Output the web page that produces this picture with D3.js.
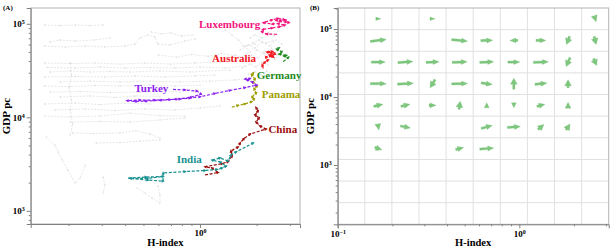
<!DOCTYPE html>
<html><head><meta charset="utf-8">
<script src="https://cdn.jsdelivr.net/npm/d3@7"></script>
<style>
body{margin:0;background:#fff}
svg{display:block}
text{font-family:"Liberation Serif","Times New Roman",serif;font-weight:bold}
</style>
</head><body>
<svg id="c" width="614" height="252"></svg>
<script>
// ---------- DATA : panel A, highlighted countries  [H-index, GDP pc] ----------
const luxembourg = [[2.56,77200],[2.26,77700],[2.13,82400],[2.17,87300],[2.42,90100],[2.66,93500],[2.83,97000],[2.60,100700],[2.42,99500],[2.17,102800],[2.41,110000],[2.60,114000],[2.80,111300],[2.66,106000],[2.87,104500],[2.97,102800],[2.83,110000],[2.54,108600]];
const australia = [[2.17,33400],[2.14,36300],[2.22,39000],[2.30,41000],[2.24,44200],[2.36,46400],[2.45,44200],[2.39,48700],[2.27,49900],[2.42,50600],[2.51,47500],[2.36,44700]];
const germany = [[2.77,39400],[2.95,43800],[2.80,45300],[2.88,46000],[2.64,47500],[2.72,50300],[2.56,53400],[2.63,55100]];
const panama = [[1.475,12800],[1.59,13400],[1.735,13900],[1.88,14700],[1.94,15700],[1.89,16600],[1.99,18200],[1.94,20100],[2.01,21600],[1.91,23900],[1.96,25700],[1.88,28300],[1.92,29800]];
const turkey = [[0.718,19900],[0.832,19600],[0.964,19100],[1.012,17700],[0.885,16300],[0.736,15600],[0.612,15200],[0.510,14900],[0.451,14800],[0.409,15100],[0.48,15300],[0.576,15300],[0.692,15500],[0.783,15700],[0.885,16100],[1.0,16600],[1.20,18000],[1.445,19400],[1.735,20800],[2.00,22100],[1.89,23900],[1.78,25100],[1.845,26000],[1.735,25700]];
const china = [[1.063,2420],[1.247,2570],[1.158,2870],[1.063,2960],[1.31,3200],[1.409,3350],[1.48,3850],[1.46,4360],[1.59,4810],[1.633,5310],[1.714,5930],[1.845,6620],[2.24,7490],[2.085,8080],[1.985,8910],[2.06,9840],[1.96,10600],[2.035,11700],[1.985,12700]];
const india = [[0.414,2240],[0.516,2300],[0.636,2330],[0.522,2220],[0.425,2220],[0.529,2130],[0.636,2080],[0.636,2540],[0.832,2630],[1.063,2700],[1.231,2770],[1.31,2870],[1.375,3010],[1.277,3330],[1.158,3490],[1.277,3670],[1.409,3410],[1.46,3950],[1.553,4260],[1.915,5310]];

// ---------- DATA : panel A, background countries ----------
const background = [
 [[0.149,97000],[0.18,95900],[0.217,97000],[0.26,95900],[0.305,97000]],
 [[0.149,57900],[0.192,56500],[0.245,57900],[0.312,56500],[0.399,57900],[0.451,60800],[0.48,70500],[0.527,75900],[0.576,72300],[0.595,60800],[0.692,59400],[0.832,65400],[0.941,68700]],
 [[0.159,63800],[0.18,67200],[0.217,65400],[0.276,67200],[0.332,70500]],
 [[0.149,38100],[0.204,37600],[0.276,38100],[0.375,37100],[0.510,38100],[0.692,37100],[0.941,38100],[1.277,39000],[1.633,41000]],
 [[0.154,34100],[0.217,33700],[0.294,34500],[0.399,33700],[0.542,34100],[0.736,33700],[1.0,34500],[1.358,33700],[1.735,35400]],
 [[0.159,30500],[0.204,31300],[0.26,30500],[0.332,30900],[0.425,30500],[0.612,31300],[0.885,30500],[1.445,32100]],
 [[0.149,27000],[0.217,27300],[0.312,27000],[0.451,27700],[0.651,27000],[0.941,27700],[1.2,28300]],
 [[0.18,23900],[0.26,24400],[0.375,23900],[0.542,24400],[0.783,23900],[1.13,24400],[1.535,25100],[1.845,26300]],
 [[0.149,21600],[0.204,21300],[0.276,21900],[0.375,21600],[0.542,22100],[0.736,21600],[1.0,22100]],
 [[0.159,18600],[0.23,18900],[0.332,18400],[0.48,18600],[0.651,19100],[0.783,18600]],
 [[0.18,16500],[0.26,16900],[0.353,16300],[0.451,16900],[0.612,16700]],
 [[0.149,13900],[0.217,14200],[0.294,13700],[0.399,14200],[0.542,13900]],
 [[0.169,12000],[0.245,12300],[0.353,11800],[0.510,12300],[0.736,12000],[1.0,12600],[1.277,13200]],
 [[0.149,10300],[0.204,10100],[0.294,10300],[0.425,11100],[0.612,10400],[0.832,10300]],
 [[0.204,8910],[0.294,9020],[0.425,8910],[0.612,9360],[0.832,9840]],
 [[0.21,6790],[0.27,6710],[0.375,6790],[0.455,7200],[0.542,6620],[0.612,6010]],
 [[0.28,5310],[0.375,5370],[0.48,5570],[0.612,5720]],
 [[0.152,6150],[0.169,5060],[0.176,4250],[0.185,3490],[0.198,2730],[0.217,1980],[0.23,2240],[0.245,3090]],
 [[0.204,38100],[0.207,28300],[0.201,20600],[0.207,15300],[0.204,12000],[0.21,8490],[0.204,6470]],
 [[0.462,1750],[0.51,1550],[0.556,1370],[0.612,1210],[0.612,1480],[0.598,1840]],
 [[0.305,2300],[0.312,1890],[0.305,1550]],
 [[0.55,82000],[0.62,78000],[0.70,80000],[0.80,74000],[0.92,76000]],
 [[0.6,46400],[0.75,44000],[0.9,47000],[1.1,45000],[1.3,48000],[1.5,46000]],
 [[1.633,52500],[1.804,59400],[1.96,55100],[2.13,63800],[2.356,57900],[2.54,67200],[2.72,60800]],
 [[1.735,41000],[1.885,46400],[2.03,43100],[2.18,49900],[2.356,44200],[2.6,52500]],
 [[1.67,33700],[1.845,37100],[1.98,34500],[2.13,39000],[2.3,36300]],
 [[1.845,70500],[1.96,75900],[2.13,70500],[2.3,79800],[2.48,74100]],
 [[1.535,46400],[1.67,44200],[1.845,49900],[1.735,57900],[1.96,60800]],
 [[1.804,29100],[1.96,30500],[2.085,28300],[2.26,31300],[2.42,29100]],
 [[1.358,86000],[1.48,76000],[1.6,67200],[1.7,57900]],
 [[2.0,52500],[2.2,47500],[2.4,55100],[2.6,46400],[2.5,41000]],
 [[1.9,62300],[2.05,67200],[2.25,62300],[2.45,65400]]
];

// ---------- DATA : panel B, mean flow per bin (row 0 = top GDP bin) ----------
const quiverCol = [1,3,9, 1,4,5,6,7,8,9, 1,2,3,4,5,6,7,8,9, 1,2,3,4,5,6,7,8, 1,2,3,4,5,6,7,8, 1,2,5,6,7,8, 1,4,5];
const quiverRow = [0,0,0, 1,1,1,1,1,1,1, 2,2,2,2,2,2,2,2,2, 3,3,3,3,3,3,3,3, 4,4,4,4,4,4,4,4, 5,5,5,5,5,5, 6,6,6];
const quiverDH  = [0.028,0.028,0.011, 0.088,0.088,0.066,-0.044,0.055,-0.017,0.011, 0.077,0.083,0.072,0.083,0.077,0.066,0.083,-0.022,0.017, 0.088,0.088,-0.028,0.088,0.061,0,0.066,0, 0.05,0.05,0.039,0.006,0,0,0.044,0, 0.006,0.055,0.061,0.072,0.033,0.022, 0.039,0.044,0.077];
const quiverDG  = [0,0,-0.088, 0.029,-0.022,0.007,0,0,-0.118,-0.118, 0,0.015,0.007,0.007,0.007,0,0.007,-0.132,-0.103, 0,0.015,-0.118,0.007,-0.022,0.162,0.022,0.118, 0.029,0.029,0,0.118,0.074,-0.074,0.029,0.088, -0.088,-0.029,0.044,0.015,0.074,0.088, -0.037,0.029,0.015];

// ---------- tick values ----------
const yMajorTicks = [1e3,1e4,1e5];
const xMajorTicksA = [1];
const xMajorTicksB = [0.1,1];

// ---------- config (styles / layout) ----------
const countries = [
 {name:"Luxembourg", data:luxembourg, color:"#f2157e", label:[2.087,90100], anchor:"end"},
 {name:"Australia",  data:australia,  color:"#f2141c", label:[1.986,39000], anchor:"end"},
 {name:"Germany",    data:germany,    color:"#1f8c1f", label:[2.003,26000], anchor:"start"},
 {name:"Panama",     data:panama,     color:"#9c9c00", label:[2.13,16100],  anchor:"start"},
 {name:"Turkey",     data:turkey,     color:"#8b22f0", label:[0.678,18600], anchor:"end"},
 {name:"China",      data:china,      color:"#9b0d0d", label:[2.31,6740],   anchor:"start"},
 {name:"India",      data:india,      color:"#1a9191", label:[0.751,3243],  anchor:"start"}
];

const svg = d3.select("#c");

// scales
const xA = d3.scaleLog().domain([0.1257, 3.40]).range([30.7, 300]);
const yA = d3.scaleLog().domain([723, 147600]).range([224, 8]);
const xB = d3.scaleLog().domain([0.1, Math.pow(10,0.492)]).range([337.7, 608.7]);
const yB = d3.scaleLog().domain([Math.pow(10,2.128), Math.pow(10,5.309)]).range([224.3, 8]);

function minorTicks(scale){
  const [a,b] = scale.domain();
  const out = [];
  for (let e = Math.floor(Math.log10(a)); e <= Math.ceil(Math.log10(b)); e++){
    for (let m = 2; m <= 9; m++){
      const v = m*Math.pow(10,e);
      if (v >= a && v <= b) out.push(v);
    }
  }
  return out;
}
function supLabels(sel){
  sel.selectAll(".tick text").each(function(d){
    const t = d3.select(this);
    const e = Math.round(Math.log10(d));
    t.text("10");
    t.append("tspan").attr("dy","-0.5em").attr("font-size","6px").text(e < 0 ? "\u2212" + String(-e) : String(e));
  });
}

function drawAxes(x, y, xMajor, labelX){
  const [x0,x1] = x.range(), [y0,y1] = y.range();
  svg.append("rect").attr("x",x0).attr("y",y1).attr("width",x1-x0).attr("height",y0-y1)
     .attr("fill","none").attr("stroke","#b4b4b4").attr("stroke-width",1);
  const gy = svg.append("g").attr("transform",`translate(${x0},0)`);
  gy.call(d3.axisLeft(y).tickValues(yMajorTicks.filter(v=>v>=y.domain()[0]&&v<=y.domain()[1])).tickSize(4).tickPadding(2));
  supLabels(gy);
  const gym = svg.append("g").attr("transform",`translate(${x0},0)`);
  gym.call(d3.axisLeft(y).tickValues(minorTicks(y)).tickSize(2).tickFormat(""));
  gym.select(".domain").remove();
  const gx = svg.append("g").attr("transform",`translate(0,${y0})`);
  gx.call(d3.axisBottom(x).tickValues(xMajor).tickSize(4).tickPadding(2));
  supLabels(gx);
  const gxm = svg.append("g").attr("transform",`translate(0,${y0})`);
  gxm.call(d3.axisBottom(x).tickValues(minorTicks(x)).tickSize(2).tickFormat(""));
  gxm.select(".domain").remove();
  svg.selectAll(".domain").attr("stroke","#808080");
  svg.selectAll(".tick line").attr("stroke","#808080");
  svg.selectAll(".tick text").attr("font-size","9px").attr("font-family","Liberation Serif, serif").attr("font-weight","bold").attr("fill","#000");
  svg.append("text").attr("x",(x0+x1)/2).attr("y",246).attr("text-anchor","middle").attr("font-size","10.5px").text("H-index");
  svg.append("text").attr("transform",`translate(${labelX},${(y0+y1)/2}) rotate(-90)`).attr("text-anchor","middle").attr("font-size","11px").text("GDP pc");
}

// ---------- PANEL A ----------
const lineA = d3.line().x(d=>xA(d[0])).y(d=>yA(d[1]));
const gBg = svg.append("g");
background.forEach(p=>{
  gBg.append("path").attr("d",lineA(p)).attr("fill","none").attr("stroke","#cfcfcf")
     .attr("stroke-width",0.7).attr("stroke-dasharray","2,1.3").attr("opacity",0.7);
  gBg.selectAll(null).data(p).join("circle").attr("cx",d=>xA(d[0])).attr("cy",d=>yA(d[1]))
     .attr("r",0.7).attr("fill","#cdcdcd").attr("opacity",0.7);
});

drawAxes(xA, yA, xMajorTicksA, 10);

countries.forEach(c=>{
  const g = svg.append("g");
  g.append("path").attr("d",lineA(c.data)).attr("fill","none").attr("stroke",c.color)
   .attr("stroke-width",1.2).attr("stroke-dasharray","3,1.6");
  for (let i=1;i<c.data.length;i++){
    const ax=xA(c.data[i-1][0]), ay=yA(c.data[i-1][1]), bx=xA(c.data[i][0]), by=yA(c.data[i][1]);
    const ang = Math.atan2(by-ay,bx-ax)*180/Math.PI;
    g.append("path").attr("d","M1.8,0L-1.6,-1.6L-1.6,1.6Z").attr("fill",c.color)
     .attr("transform",`translate(${bx},${by}) rotate(${ang})`);
  }
  g.append("text").attr("x",xA(c.label[0])).attr("y",yA(c.label[1])).attr("text-anchor",c.anchor)
   .attr("font-size","11px").attr("fill",c.color).text(c.name);
});
svg.append("text").attr("x",3).attr("y",10).attr("font-size","7px").text("(A)");

// ---------- PANEL B ----------
const lx0 = Math.log10(xB.domain()[0]), lx1 = Math.log10(xB.domain()[1]);
const ly0 = Math.log10(yB.domain()[0]), ly1 = Math.log10(yB.domain()[1]);
const nb = 10;
const gGrid = svg.append("g");
for (let k=1;k<nb;k++){
  const gx = xB(Math.pow(10, lx0 + (lx1-lx0)*k/nb));
  const gy = yB(Math.pow(10, ly0 + (ly1-ly0)*k/nb));
  gGrid.append("line").attr("x1",gx).attr("x2",gx).attr("y1",yB.range()[1]).attr("y2",yB.range()[0]).attr("stroke","#e0e0e0").attr("stroke-width",1);
  gGrid.append("line").attr("y1",gy).attr("y2",gy).attr("x1",xB.range()[0]).attr("x2",xB.range()[1]).attr("stroke","#e0e0e0").attr("stroke-width",1);
}
drawAxes(xB, yB, xMajorTicksB, 314);

const gQ = svg.append("g");
quiverCol.forEach((col,i)=>{
  const row = quiverRow[i];
  const cx = lx0 + (lx1-lx0)*(col+0.5)/nb;
  const cy = ly1 - (ly1-ly0)*(row+0.5)/nb;
  const x0 = xB(Math.pow(10, cx - quiverDH[i]/2)), y0 = yB(Math.pow(10, cy - quiverDG[i]/2));
  const x1 = xB(Math.pow(10, cx + quiverDH[i]/2)), y1 = yB(Math.pow(10, cy + quiverDG[i]/2));
  const L = Math.hypot(x1-x0, y1-y0);
  const ang = Math.atan2(y1-y0, x1-x0)*180/Math.PI;
  const vert = Math.abs(Math.sin(ang*Math.PI/180));
  let hl = 6, hw = 4.8 + 2*vert, sw = 2.2;
  if (L < hl + 1){ hl = L; sw = 0; hw = Math.max(3.2, (4.8 + 2*vert) * Math.min(1, L/7)); }
  const h = L/2;
  const d = sw > 0
    ? `M${-h},${-sw/2}L${h-hl},${-sw/2}L${h-hl},${-hw/2}L${h},0L${h-hl},${hw/2}L${h-hl},${sw/2}L${-h},${sw/2}Z`
    : `M${-h},${-hw/2}L${h},0L${-h},${hw/2}Z`;
  gQ.append("path").attr("d",d).attr("fill","#5fb85f").attr("fill-opacity",0.8)
    .attr("stroke","#5fb85f").attr("stroke-opacity",0.6).attr("stroke-width",0.4)
    .attr("transform",`translate(${(x0+x1)/2},${(y0+y1)/2}) rotate(${ang})`);
});
svg.append("text").attr("x",310).attr("y",10).attr("font-size","7px").text("(B)");
</script>
</body></html>
